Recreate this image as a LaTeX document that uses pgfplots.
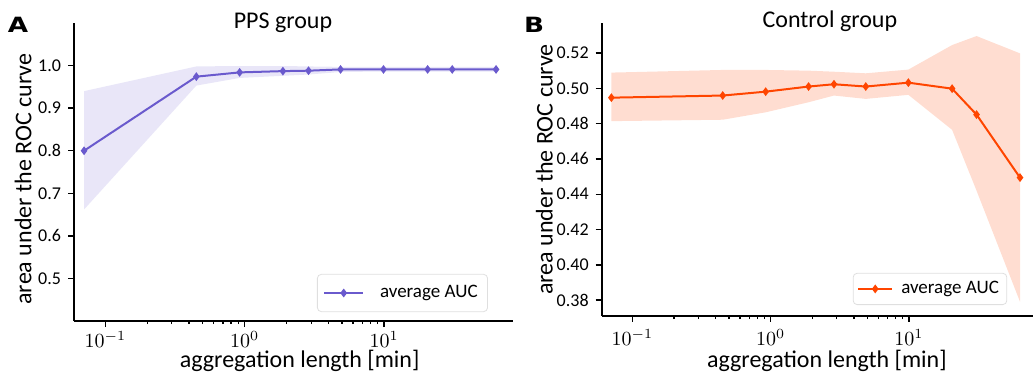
\documentclass[border=0pt]{standalone}
\usepackage{fontspec}
\setmainfont{Carlito}
\newfontfamily\letterfont{DejaVu Sans}
\usepackage{pgfplots}
\pgfplotsset{compat=1.18}
\definecolor{sblue}{HTML}{6A5ACD}
\definecolor{ored}{HTML}{FF4500}

\pgfplotstableread{
x     m
0.0705 0.800
0.45  0.974
0.92  0.984
1.88  0.987
2.87  0.988
4.87  0.991
9.9   0.991
20.5  0.991
30.8  0.991
63.5  0.991
}\ppsdata

% band: upper edge left->right, then lower edge right->left
\pgfplotstableread{
x     y
0.0705 0.940
0.45  0.998
0.92  0.999
1.88  0.999
2.87  0.998
4.87  0.997
9.9   0.997
20.5  0.997
30.8  0.997
63.5  0.997
63.5  0.986
30.8  0.986
20.5  0.986
9.9   0.986
4.87  0.985
2.87  0.979
1.88  0.976
0.92  0.971
0.45  0.953
0.0705 0.662
}\ppsband

\pgfplotstableread{
x     m
0.0705 0.4947
0.45  0.4959
0.92  0.4981
1.88  0.5010
2.87  0.5023
4.87  0.5010
9.9   0.5032
20.5  0.4998
30.8  0.4851
63.5  0.4494
}\ctrldata

\pgfplotstableread{
x     y
0.0705 0.5089
0.45  0.5104
0.92  0.5104
1.88  0.5100
2.87  0.5094
4.87  0.5085
9.9   0.5106
20.5  0.5245
30.8  0.5296
63.5  0.5198
63.5  0.3791
30.8  0.4420
20.5  0.4765
9.9   0.4963
4.87  0.4940
2.87  0.4959
1.88  0.4921
0.92  0.4864
0.45  0.4822
0.0705 0.4814
}\ctrlband

\begin{document}
\begin{tikzpicture}
\useasboundingbox (0,0) rectangle (517pt,187.5pt);

\begin{semilogxaxis}[
  scale only axis,
  clip=false,
  axis lines=left,
  axis line style={-, line width=0.8pt},
  tick align=outside,
  tick style={black, line width=0.7pt},
  major tick length=3pt,
  minor tick length=1.6pt,
  xtick={0.1,1,10},
  tick label style={font=\fontsize{9}{10}\selectfont},
  xticklabel style={font=\fontsize{10}{11}\selectfont, yshift=1.5pt},
  label style={font=\fontsize{12}{13}\selectfont},
  legend style={draw=gray!25, rounded corners=2pt, fill=white,
    font=\fontsize{9.5}{10}\selectfont, inner xsep=3pt, inner ysep=3.5pt,
    at={(axis description cs:0.943,0.030)}, anchor=south east},
  legend image code/.code={\draw[mark repeat=2,mark phase=2,#1] plot coordinates {(0cm,0cm) (0.34cm,0cm) (0.68cm,0cm)};},
  legend cell align=left,
  at={(37pt,27pt)}, anchor=south west,
  width=219.5pt, height=149pt,
  xmin=0.0597, xmax=84,
  ymin=0.4, ymax=1.1,
  ytick={0.5,0.6,0.7,0.8,0.9,1.0},
  yticklabel style={/pgf/number format/.cd, fixed, fixed zerofill, precision=1, assume math mode=true},
  xlabel={aggregation length [min]},
  xlabel style={at={(axis description cs:0.514,-0.156)}, anchor=base},
  ylabel={area under the ROC curve},
  ylabel style={at={(axis description cs:-0.116,0.476)}, anchor=center},
]
\addplot[draw=none, fill=sblue, fill opacity=0.15, forget plot] table[x=x, y=y] {\ppsband} -- cycle;
\addplot[sblue, line width=1pt, mark=diamond*, mark size=1.4pt,
  mark options={solid, fill=sblue}] table[x=x, y=m] {\ppsdata};
\addlegendentry{\hspace{6pt}average AUC}
\node[anchor=base, font=\fontsize{12}{13}\selectfont] at (axis description cs:0.476,0.983) {PPS group};
\end{semilogxaxis}

\begin{semilogxaxis}[
  scale only axis,
  clip=false,
  axis lines=left,
  axis line style={-, line width=0.8pt},
  tick align=outside,
  tick style={black, line width=0.7pt},
  major tick length=3pt,
  minor tick length=1.6pt,
  xtick={0.1,1,10},
  tick label style={font=\fontsize{9}{10}\selectfont},
  xticklabel style={font=\fontsize{10}{11}\selectfont},
  label style={font=\fontsize{12}{13}\selectfont},
  legend style={draw=gray!25, rounded corners=2pt, fill=white,
    font=\fontsize{9.5}{10}\selectfont, inner xsep=2pt, inner ysep=2pt,
    at={(axis description cs:0.940,0.0375)}, anchor=south east},
  legend cell align=left,
  at={(300.85pt,29.5pt)}, anchor=south west,
  width=215.7pt, height=146.5pt,
  xmin=0.060, xmax=79,
  ymin=0.371, ymax=0.537,
  ytick={0.38,0.40,0.42,0.44,0.46,0.48,0.50,0.52},
  yticklabel style={/pgf/number format/.cd, fixed, fixed zerofill, precision=2, assume math mode=true},
  xlabel={aggregation length [min]},
  xlabel style={at={(axis description cs:0.522,-0.176)}, anchor=base},
  ylabel={area under the ROC curve},
  ylabel style={at={(axis description cs:-0.133,0.5)}, anchor=center},
]
\addplot[draw=none, fill=ored, fill opacity=0.18, forget plot] table[x=x, y=y] {\ctrlband} -- cycle;
\addplot[ored, line width=1pt, mark=diamond*, mark size=1.4pt,
  mark options={solid, fill=ored}] table[x=x, y=m] {\ctrldata};
\addlegendentry{\hspace{2pt}average AUC}
\node[anchor=base, font=\fontsize{12}{13}\selectfont] at (axis description cs:0.529,0.983) {Control group};
\end{semilogxaxis}

\node[font=\letterfont\bfseries\fontsize{10.5}{12}\selectfont, xscale=1.25] at (9pt,175.25pt) {A};
\node[font=\letterfont\bfseries\fontsize{10.5}{12}\selectfont, xscale=1.25] at (267pt,175.25pt) {B};
\end{tikzpicture}
\end{document}
